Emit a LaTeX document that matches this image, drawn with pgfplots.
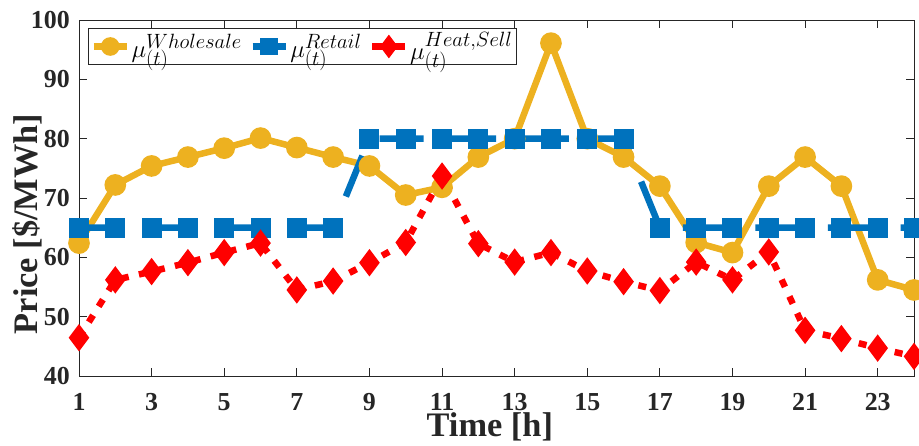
\documentclass[border=0pt]{standalone}
\usepackage{fontspec}
\setmainfont{Liberation Serif}
\usepackage{pgfplots}
\pgfplotsset{compat=1.18}
\definecolor{cY}{rgb}{0.929,0.694,0.125}
\definecolor{cB}{rgb}{0,0.447,0.741}
\definecolor{cR}{rgb}{1,0,0}
\definecolor{axc}{rgb}{0.15,0.15,0.15}
\begin{document}
\begin{tikzpicture}
\begin{axis}[
  scale only axis,
  width=835bp, height=356bp,
  xmin=1, xmax=24, ymin=40, ymax=100,
  xtick={1,3,...,23},
  ytick={40,50,...,100},
  tick align=inside,
  major tick length=8bp,
  axis line style={axc, line width=1bp},
  tick style={axc, line width=1bp},
  clip=false,
  /pgf/number format/assume math mode=true,
  tick label style={font=\fontsize{26}{26}\selectfont\bfseries, text=axc, inner sep=0pt},
  xticklabel style={anchor=base, yshift=-34bp},
  yticklabel style={anchor=east, xshift=-9bp},
  xlabel={Time [h]},
  ylabel={Price [\$/MWh]},
  label style={font=\fontsize{34.5}{34.5}\selectfont\bfseries, text=axc, inner sep=0pt},
  xlabel style={at={(axis description cs:0.492,0)}, anchor=base, yshift=-60.5bp},
  ylabel style={at={(axis description cs:-0.0617,0.427)}, anchor=center},
  legend columns=3,
  legend style={at={(axis description cs:0.0108,0.9767)}, anchor=north west,
    draw=axc, line width=1bp, font=\fontsize{29}{29}\selectfont,
    inner sep=2bp, nodes={inner sep=1.5bp},
    /tikz/every odd column/.append style={column sep=0bp},
    /tikz/every even column/.append style={column sep=6bp}},
  legend image code/.code={\draw[mark repeat=2,mark phase=2,#1,solid,every mark/.append style={scale=0.85}] plot coordinates {(0bp,0bp) (16.5bp,0bp) (33bp,0bp)};},
]
\addplot[cY, line width=6.5bp, mark=*, mark size=10.1bp, mark options={solid, line width=1.5bp, fill=cY, draw=cY}]
coordinates {(1,62.4) (2,72.2) (3,75.4) (4,76.9) (5,78.4) (6,80.1) (7,78.5) (8,76.9) (9,75.4) (10,70.5) (11,71.8) (12,76.9) (13,80.0) (14,96.1) (15,80.0) (16,76.9) (17,72.0) (18,62.5) (19,60.8) (20,72.0) (21,76.9) (22,72.0) (23,56.2) (24,54.5)};
\addlegendentry{$\mu_{(t)}^{Wholesale}$}
\addplot[cB, line width=6.5bp, dash pattern=on 44bp off 28.6bp, dash phase=2.6bp, mark=square*, mark size=9.25bp, mark options={solid, line width=1.5bp, fill=cB, draw=cB}]
coordinates {(1,65) (2,65) (3,65) (4,65) (5,65) (6,65) (7,65) (8,65) (9,80) (10,80) (11,80) (12,80) (13,80) (14,80) (15,80) (16,80) (17,65) (18,65) (19,65) (20,65) (21,65) (22,65) (23,65) (24,65)};
\addlegendentry{$\mu_{(t)}^{Retail}$}
\addplot[cR, line width=6.5bp, dash pattern=on 8bp off 10.5bp, mark=diamond*, mark size=12.5bp, mark options={solid, line width=1.5bp, fill=cR, draw=cR}]
coordinates {(1,46.45) (2,56.2) (3,57.6) (4,59.1) (5,60.8) (6,62.4) (7,54.5) (8,56.0) (9,59.1) (10,62.5) (11,73.7) (12,62.3) (13,59.2) (14,60.8) (15,57.7) (16,55.9) (17,54.4) (18,59.2) (19,56.2) (20,60.9) (21,47.7) (22,46.3) (23,44.7) (24,43.3)};
\addlegendentry{$\mu_{(t)}^{Heat,Sell}$}
\coordinate (bl) at (rel axis cs:0,0);
\coordinate (tr) at (rel axis cs:1,1);
\end{axis}
\pgfresetboundingbox
\path (bl) ++(-79bp,-70bp) rectangle ([shift={(5bp,20bp)}]tr);
\end{tikzpicture}
\end{document}
